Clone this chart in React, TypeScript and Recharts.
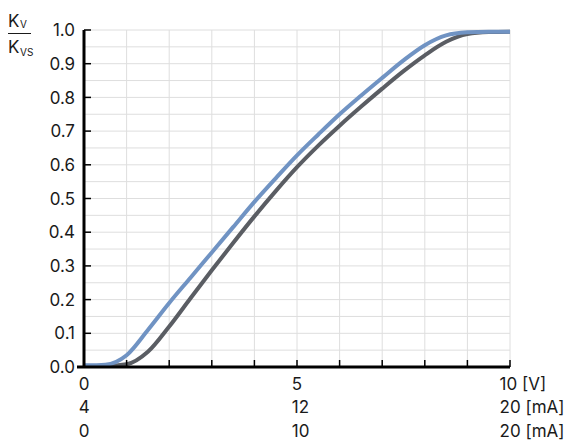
import { LineChart, Line, XAxis, YAxis, CartesianGrid } from 'recharts'

// control signal at 0.5 V steps
const voltage = [0, 0.5, 1, 1.5, 2, 2.5, 3, 3.5, 4, 4.5, 5, 5.5, 6, 6.5, 7, 7.5, 8, 8.5, 9, 9.5, 10]
const kvBlue = [0.005, 0.007, 0.035, 0.11, 0.19, 0.265, 0.34, 0.415, 0.49, 0.56, 0.628, 0.69, 0.75, 0.805, 0.858, 0.91, 0.955, 0.984, 0.993, 0.995, 0.995]
const kvGray = [0.003, 0.003, 0.008, 0.045, 0.12, 0.204, 0.287, 0.368, 0.447, 0.522, 0.593, 0.657, 0.716, 0.772, 0.826, 0.878, 0.925, 0.965, 0.988, 0.994, 0.995]

const xTicks = [0, 1, 2, 3, 4, 5, 6, 7, 8, 9, 10]
// grid every 0.05, labels every 0.1
const yTicks = [0, 0.05, 0.1, 0.15, 0.2, 0.25, 0.3, 0.35, 0.4, 0.45, 0.5, 0.55, 0.6, 0.65, 0.7, 0.75, 0.8, 0.85, 0.9, 0.95, 1]

const labelledTicks = [0, 5, 10]
const voltLabels = ['0', '5', '10 [V]']
const current4to20Labels = ['4', '12', '20 [mA]']
const current0to20Labels = ['0', '10', '20 [mA]']

const data = voltage.map((v, i) => ({ v, blue: kvBlue[i], gray: kvGray[i] }))

const FONT = 'Inter, sans-serif'
const TEXT = '#1a1a1a'

function XTick(props: any) {
  const { x, y, payload } = props
  const v = payload.value
  const idx = labelledTicks.indexOf(v)
  const rows = [voltLabels, current4to20Labels, current0to20Labels]
  const first = idx >= 0 ? voltLabels[idx].split(' ')[0] : ''
  const startX = x - first.length * 5.2
  return (
    <g>
      {v > 0 && <path d={`M${x},${y}V${y - 7}`} stroke="#000" strokeWidth={1.5} fill="none" />}
      {idx >= 0 &&
        rows.map((r, ri) => (
          <text key={ri} x={startX} y={y + 23 + ri * 23.3} fontSize={17} fontFamily={FONT} fill={TEXT}>
            {r[idx]}
          </text>
        ))}
    </g>
  )
}

function YTick(props: any) {
  const { x, y, payload } = props
  const v = payload.value
  const major = Math.abs(v * 10 - Math.round(v * 10)) < 1e-6
  if (!major) return <g />
  return (
    <g>
      {v > 0 ? (
        <path d={`M${x},${y}H${x + 7}`} stroke="#000" strokeWidth={1.5} fill="none" />
      ) : (
        <path d={`M${x - 7},${y}H${x}`} stroke="#000" strokeWidth={3} fill="none" />
      )}
      <text x={x - 9} y={y} dy="0.36em" textAnchor="end" fontSize={17} fontFamily={FONT} fill={TEXT}>
        {v.toFixed(1)}
      </text>
    </g>
  )
}

export default function App() {
  return (
    <div style={{ position: 'absolute', left: 0, top: 0, width: 573, height: 446, background: '#fff' }}>
      <LineChart width={573} height={446} data={data} margin={{ top: 30, right: 63, left: 0, bottom: 0 }}>
        <CartesianGrid stroke="#dedede" strokeWidth={1} />
        <XAxis
          dataKey="v"
          type="number"
          domain={[0, 10]}
          ticks={xTicks}
          interval={0}
          height={79}
          tickSize={0}
          tickMargin={0}
          tickLine={false}
          axisLine={{ stroke: '#000', strokeWidth: 3 }}
          tick={<XTick />}
        />
        <YAxis
          type="number"
          domain={[0, 1]}
          ticks={yTicks}
          interval={0}
          width={84}
          tickSize={0}
          tickMargin={0}
          tickLine={false}
          axisLine={{ stroke: '#000', strokeWidth: 3 }}
          tick={<YTick />}
        />
        <Line type="monotone" dataKey="gray" stroke="#5a5d63" strokeWidth={4} dot={false} isAnimationActive={false} />
        <Line type="monotone" dataKey="blue" stroke="#7093c3" strokeWidth={4} dot={false} isAnimationActive={false} />
      </LineChart>
      <svg width={60} height={60} style={{ position: 'absolute', left: 0, top: 0 }}>
        <text x={8} y={27} fontSize={17} fontFamily={FONT} fill={TEXT}>K</text>
        <text x={20} y={27.5} fontSize={10} fontFamily={FONT} fill={TEXT}>V</text>
        <path d="M8,33.5H31" stroke={TEXT} strokeWidth={1} />
        <text x={8} y={52.5} fontSize={17} fontFamily={FONT} fill={TEXT}>K</text>
        <text x={20} y={55.5} fontSize={10} fontFamily={FONT} fill={TEXT}>VS</text>
      </svg>
    </div>
  )
}
